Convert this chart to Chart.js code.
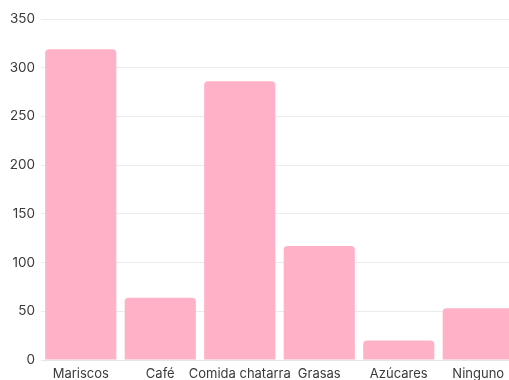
<!DOCTYPE html>
<html>
<head>
<meta charset="utf-8">
<script src="https://cdn.jsdelivr.net/npm/chart.js@4"></script>
<style>
  html, body { margin: 0; padding: 0; background: #ffffff; overflow: hidden; }
  #wrap { width: 522px; height: 380px; position: relative; }
</style>
</head>
<body>
<div id="wrap"><canvas id="chart"></canvas></div>
<script>
// Categories and values
const categories = ['Mariscos', 'Café', 'Comida chatarra', 'Grasas', 'Azúcares', 'Ninguno'];
const respuestas = [319, 64, 286, 117, 20, 53];
const yTicks = [0, 50, 100, 150, 200, 250, 300, 350];

const textColor = '#3a3a3a';
const fontFamily = 'Inter, "Noto Sans", sans-serif';

new Chart(document.getElementById('chart'), {
  type: 'bar',
  data: {
    labels: categories,
    datasets: [{
      data: respuestas,
      backgroundColor: '#FFB2C7',
      borderWidth: 0,
      borderRadius: { topLeft: 4, topRight: 4, bottomLeft: 0, bottomRight: 0 },
      borderSkipped: false,
      barPercentage: 0.895,
      categoryPercentage: 1.0
    }]
  },
  options: {
    responsive: true,
    maintainAspectRatio: false,
    animation: false,
    layout: { padding: { top: 19, right: 4, left: 0, bottom: 0 } },
    plugins: {
      legend: { display: false },
      tooltip: { enabled: false }
    },
    scales: {
      x: {
        grid: { display: false, drawTicks: false },
        border: { display: true, color: '#e6e6e6' },
        ticks: {
          color: textColor,
          font: { family: fontFamily, size: 13 },
          padding: 6,
          maxRotation: 0,
          autoSkip: false
        },
        afterFit: (s) => { s.height = 20; }
      },
      y: {
        min: 0,
        max: 350,
        afterBuildTicks: (s) => { s.ticks = yTicks.map(v => ({ value: v })); },
        grid: { color: '#ebebeb', lineWidth: 1, drawTicks: false },
        border: { display: false },
        ticks: {
          color: textColor,
          font: { family: fontFamily, size: 13.5 },
          padding: 6
        },
        afterFit: (s) => { s.width = 41; }
      }
    }
  }
});
</script>
</body>
</html>
